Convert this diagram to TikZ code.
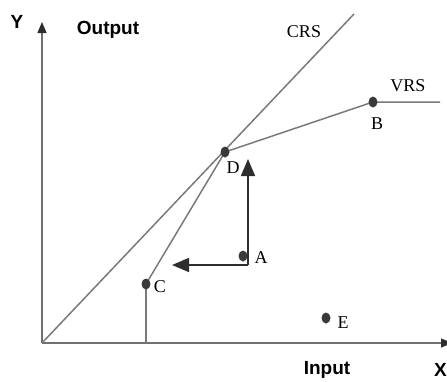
\documentclass[tikz,border=0pt]{standalone}
\usepackage{fontspec}
\setmainfont{Liberation Serif}
\setsansfont{Liberation Sans}
\usetikzlibrary{arrows.meta,shapes.geometric}
\definecolor{axisgray}{HTML}{707070}
\definecolor{curvegray}{HTML}{7A7A7A}
\definecolor{dotgray}{HTML}{3A3A3A}
\definecolor{arrowdark}{HTML}{2E2E2E}
\tikzset{
  axis/.style={draw=axisgray, line width=1.3pt},
  axtip/.style={-{Triangle[length=11pt,width=9pt,color=arrowdark]}},
  frontier/.style={draw=curvegray, line width=1.5pt},
  move/.style={draw=arrowdark, line width=1.6pt, -{Triangle[length=17pt,width=14pt]}},
  dot/.style={ellipse, fill=dotgray, minimum width=9pt, minimum height=11pt, inner sep=0pt},
  pt/.style={font=\fontsize{18}{18}\selectfont, inner sep=0pt},
  axlabel/.style={font=\sffamily\bfseries\fontsize{19}{19}\selectfont, inner sep=0pt}
}
\begin{document}
\begin{tikzpicture}[x=1pt,y=-1pt]
  \useasboundingbox (0,0) rectangle (447,381);
  % key points
  \coordinate (O) at (42,343);
  \coordinate (ytip) at (42,22);
  \coordinate (xtip) at (452,343);
  \coordinate (crsend) at (354,14);
  \coordinate (vrsend) at (440,102);
  \coordinate (Cfoot) at (146,343);
  \coordinate (corner) at (248,265);
  \coordinate (uptip) at (248,159);
  \coordinate (lefttip) at (172,265);

  % axes
  \draw[axis, axtip] (O) -- (ytip);
  \draw[axis, axtip] (O) -- (xtip);

  % frontiers
  \draw[frontier] (146,284) -- (225,152) -- (373,102) -- (vrsend);
  \draw[frontier] (O) -- (crsend);
  \draw[frontier] (146,284) -- (Cfoot);

  % points
  \node[dot] (D) at (225,152) {};
  \node[dot] (B) at (373,102) {};
  \node[dot] (C) at (146,284) {};
  \node[dot] (A) at (243,256) {};
  \node[dot] (E) at (326,318) {};

  % projections of A
  \draw[move] (corner) -- (uptip);
  \draw[move] (corner) -- (lefttip);

  % labels
  \node[pt] (Dl) at (233,168) {D};
  \node[pt] (Bl) at (377,124) {B};
  \node[pt] (Cl) at (160,287) {C};
  \node[pt] (Al) at (261,258) {A};
  \node[pt] (El) at (343,323) {E};
  \node[pt] (crsl) at (304,32) {CRS};
  \node[pt] (vrsl) at (408,86) {VRS};
  \node[axlabel] (yl) at (17,22) {Y};
  \node[axlabel] (outl) at (108,30) {Output};
  \node[axlabel] (inl) at (327,370) {Input};
  \node[axlabel, anchor=east] (xl) at (447,370) {X};
\end{tikzpicture}
\end{document}
